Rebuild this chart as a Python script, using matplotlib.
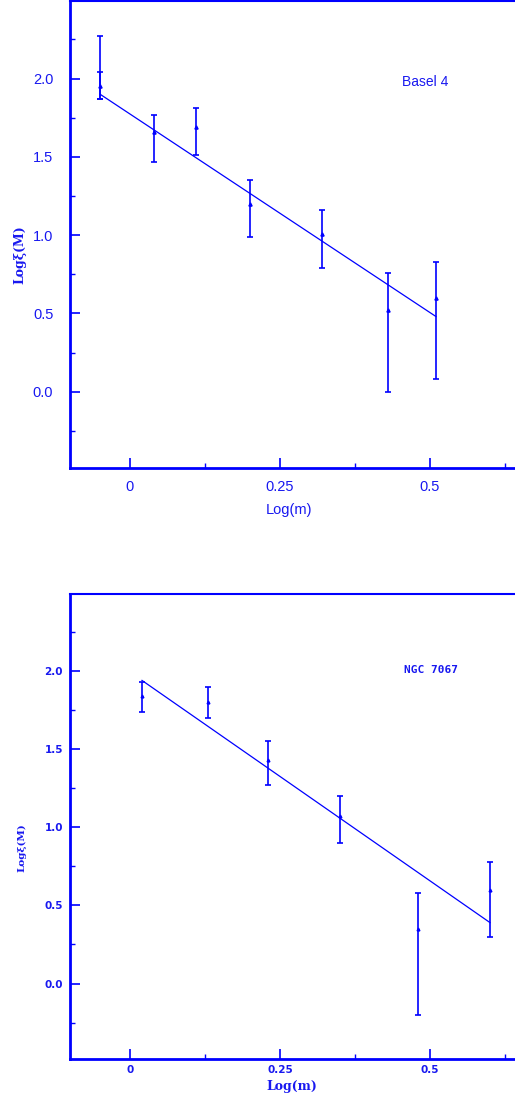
import matplotlib
matplotlib.use('Agg')
import matplotlib.pyplot as plt
from matplotlib.ticker import MultipleLocator, FixedLocator

# Basel 4 - punkty z wykresu (dwa nakladajace sie punkty przy -0.05)
basel_x = [-0.05, -0.05, 0.04, 0.11, 0.20, 0.32, 0.43, 0.51]
basel_y = [2.07, 1.955, 1.66, 1.69, 1.20, 1.01, 0.52, 0.60]
basel_lo = [0.20, 0.085, 0.19, 0.18, 0.21, 0.22, 0.52, 0.52]
basel_hi = [0.20, 0.085, 0.11, 0.12, 0.15, 0.15, 0.24, 0.23]
basel_fit_x = [-0.05, 0.51]
basel_fit_y = [1.90, 0.48]

# NGC 7067
ngc_x = [0.02, 0.13, 0.23, 0.35, 0.48, 0.60]
ngc_y = [1.84, 1.80, 1.43, 1.07, 0.35, 0.60]
ngc_lo = [0.10, 0.10, 0.16, 0.17, 0.55, 0.30]
ngc_hi = [0.09, 0.10, 0.12, 0.13, 0.23, 0.18]
ngc_fit_x = [0.02, 0.60]
ngc_fit_y = [1.94, 0.39]

x_ticks = [0, 0.25, 0.5]
x_labels = ['0', '0.25', '0.5']
y_ticks = [0.0, 0.5, 1.0, 1.5, 2.0]
y_labels = ['0.0', '0.5', '1.0', '1.5', '2.0']

kolor = '#0000ff'
kolor_txt = '#1818f0'

fig = plt.figure(figsize=(5.15, 10.95), dpi=100)

# szerokosc osi wychodzi poza figure - prawa krawedz jest obcieta jak w oryginale
ax1 = fig.add_axes([0.1359, 0.5729, 0.9903, 0.4262])
ax2 = fig.add_axes([0.1359, 0.0326, 0.9903, 0.4252])


def ustaw_osie(ax, tick_font, tick_size, tick_weight, ypad, xpad):
    ax.set_xlim(-0.1, 0.75)
    ax.set_ylim(-0.485, 2.495)
    ax.xaxis.set_major_locator(FixedLocator(x_ticks))
    ax.set_xticklabels(x_labels)
    ax.xaxis.set_minor_locator(MultipleLocator(0.125))
    ax.yaxis.set_major_locator(FixedLocator(y_ticks))
    ax.set_yticklabels(y_labels)
    ax.yaxis.set_minor_locator(MultipleLocator(0.25))
    ax.tick_params(which='both', direction='in', color=kolor, top=False, right=False)
    ax.tick_params(which='major', length=7, width=1.2)
    ax.tick_params(which='minor', length=3.5, width=1.0)
    ax.tick_params(axis='y', which='major', pad=ypad)
    ax.tick_params(axis='x', which='major', pad=xpad)
    for lab in ax.get_xticklabels() + ax.get_yticklabels():
        lab.set_family(tick_font)
        lab.set_fontsize(tick_size)
        lab.set_fontweight(tick_weight)
        lab.set_color(kolor_txt)
    for s in ['left', 'bottom']:
        ax.spines[s].set_linewidth(2.0)
        ax.spines[s].set_color(kolor)
    for s in ['top', 'right']:
        ax.spines[s].set_linewidth(1.5)
        ax.spines[s].set_color(kolor)


# Panel gorny - Basel 4
ax1.errorbar(basel_x, basel_y, yerr=[basel_lo, basel_hi], fmt='none',
             ecolor=kolor, elinewidth=1.2, capsize=2.5, capthick=1.2)
# znacznik pierwszego (nakladajacego sie) punktu nie jest widoczny na oryginale
ax1.plot(basel_x[1:], basel_y[1:], '^', color=kolor, markersize=2.3, linestyle='none')
ax1.plot(basel_fit_x, basel_fit_y, color=kolor, linewidth=0.9)
ustaw_osie(ax1, 'Liberation Sans', 10.5, 'normal', 12, 9)
ax1.text(0.697, 0.826, 'Basel 4', transform=ax1.transAxes, ha='center', va='center',
         family='Liberation Sans', fontsize=10, color=kolor_txt)
ax1.text(0.429, -0.0906, 'Log(m)', transform=ax1.transAxes, ha='center', va='center',
         family='Liberation Sans', fontsize=10.5, color=kolor_txt)
ax1.text(-0.098, 0.456, 'Log\u03be(M)', transform=ax1.transAxes, ha='center', va='center',
         rotation=90, family='DejaVu Serif', fontweight='bold', fontsize=9, color=kolor_txt)

# Panel dolny - NGC 7067
ax2.errorbar(ngc_x, ngc_y, yerr=[ngc_lo, ngc_hi], fmt='none',
             ecolor=kolor, elinewidth=1.2, capsize=2.5, capthick=1.2)
ax2.plot(ngc_x, ngc_y, '^', color=kolor, markersize=2.0, linestyle='none')
ax2.plot(ngc_fit_x, ngc_fit_y, color=kolor, linewidth=0.9)
ustaw_osie(ax2, 'DejaVu Sans', 7.5, 'bold', 5, 4)
ax2.text(0.707, 0.836, 'NGC 7067', transform=ax2.transAxes, ha='center', va='center',
         family='DejaVu Sans Mono', fontweight='bold', fontsize=8, color=kolor_txt)
ax2.text(0.435, -0.0589, 'Log(m)', transform=ax2.transAxes, ha='center', va='center',
         family='DejaVu Serif', fontweight='bold', fontsize=9, color=kolor_txt)
ax2.text(-0.094, 0.454, 'Log\u03be(M)', transform=ax2.transAxes, ha='center', va='center',
         rotation=90, family='DejaVu Serif', fontweight='bold', fontsize=7.5, color=kolor_txt)

fig.savefig('out.png', dpi=100)
